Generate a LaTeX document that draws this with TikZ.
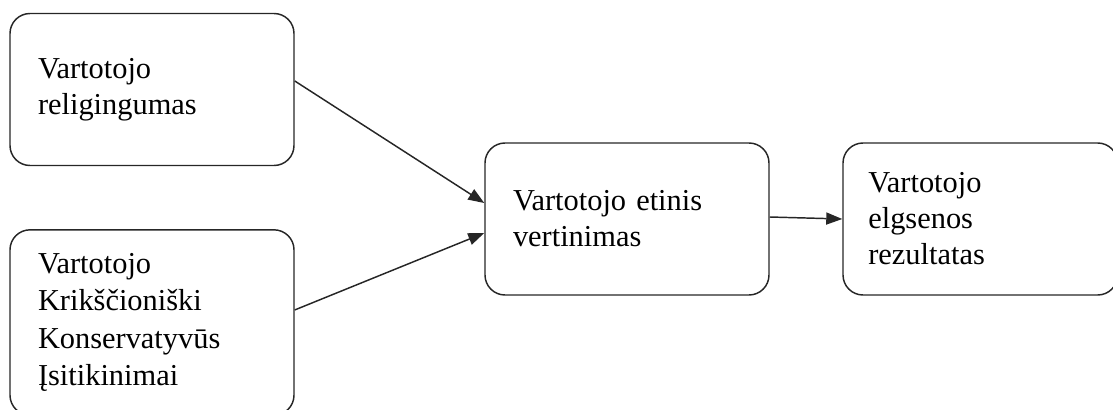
\documentclass[tikz,border=0pt]{standalone}
\usepackage{fontspec}
\setmainfont{Liberation Serif}
\usetikzlibrary{positioning}
\usetikzlibrary{arrows.meta}

\begin{document}
\begin{tikzpicture}[x = 0.75pt, y = -0.75pt,
        black!85, line width = 1.1pt,
        box/.style = {rectangle, draw, rounded corners = 15pt,
            align = left, inner xsep = 21pt, text width = 171pt,
            minimum height = 114pt, text = black,
            font = {\fontsize{22.8pt}{27pt}\selectfont}},
        link/.style = {-{Triangle[length = 12pt, width = 9pt]}},]
    \useasboundingbox[] (0,0) rectangle (1113,410);

    %\draw[help lines, opacity = 0.1] (0,0) grid (1113,410);

    \begin{scope}[on grid]

        \node (rel) at (152,89.5) [box] {Vartotojo\\religingumas};
        \node (conv) [box, below=174.75pt of rel, minimum height = 139pt,
            font = {\fontsize{22.8pt}{28pt}\selectfont}]
            {Vartotojo\\Krikščioniški\\Konservatyvūs\\Įsitikinimai};

        \node (eval) at (627,219) [box] {Vartotojo etinis\\vertinimas};
        \node (out) [box, right=265pt of eval, inner xsep = 19pt, text width = 168pt]
            {Vartotojo\\elgsenos\\rezultatas};

        \draw[link] ([yshift = 6.4pt]rel.east) -- ([yshift = 12pt]eval.west);
        \draw[link] ([yshift = 9.4pt]conv.east) -- ([yshift = -10.5pt]eval.west);
        \draw[link] ([yshift = 1.5pt]eval.east) -- (out.west);

    \end{scope}

\end{tikzpicture}
\end{document}
